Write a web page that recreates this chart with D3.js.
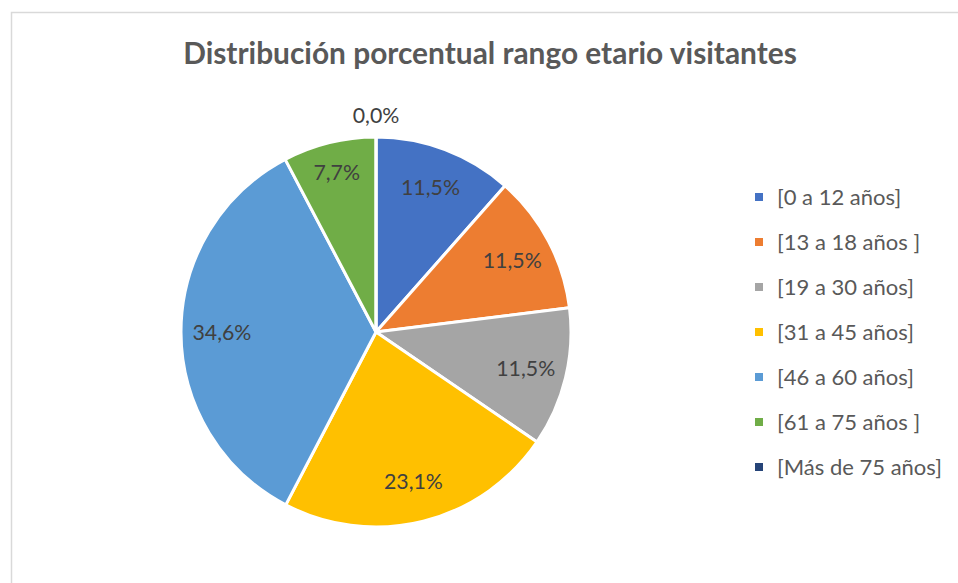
<!DOCTYPE html>
<html>
<head>
<meta charset="utf-8">
<script src="https://cdn.jsdelivr.net/npm/d3@7"></script>
<style>
  body { margin: 0; background: #fff; }
  svg { display: block; font-family: Lato, "Open Sans", sans-serif; }
</style>
</head>
<body>
<svg id="chart" width="958" height="583"></svg>
<script>
const title = "Distribución porcentual rango etario visitantes";
const categories = ["[0 a 12 años]", "[13 a 18 años ]", "[19 a 30 años]", "[31 a 45 años]",
                    "[46 a 60 años]", "[61 a 75 años ]", "[Más de 75 años]"];
const percents = [11.5, 11.5, 11.5, 23.1, 34.6, 7.7, 0.0];
const colors = ["#4472C4", "#ED7D31", "#A5A5A5", "#FFC000", "#5B9BD5", "#70AD47", "#264478"];

const width = 958, height = 583;
const cx = 376, cy = 332, radius = 195;

const svg = d3.select("#chart");

// fit a font size so a sample string reaches a given width
function fitSize(sample, target, base, weight) {
    const tmp = svg.append("text").attr("font-size", base).attr("font-weight", weight || "normal").text(sample);
    const w = tmp.node().getComputedTextLength();
    tmp.remove();
    return base * target / w;
}

// chart area border (runs past the window on the right and bottom)
svg.append("rect")
    .attr("x", 11.5).attr("y", 12.5)
    .attr("width", 1000).attr("height", 700)
    .attr("fill", "#fff")
    .attr("stroke", "#d9d9d9")
    .attr("stroke-width", 1.5);

svg.append("text")
    .attr("x", 490).attr("y", 64)
    .attr("text-anchor", "middle")
    .attr("fill", "#595959")
    .attr("font-weight", "bold")
    .attr("font-size", fitSize(title, 614, 24, "bold"))
    .text(title);

const data = categories.map((c, i) => ({ name: c, value: percents[i], color: colors[i] }));

const pie = d3.pie().sort(null).value(d => d.value);
const arcs = pie(data);

const arc = d3.arc().innerRadius(0).outerRadius(radius);

const g = svg.append("g").attr("transform", `translate(${cx},${cy})`);

g.selectAll("path")
    .data(arcs)
    .join("path")
    .attr("d", arc)
    .attr("fill", d => d.data.color)
    .attr("stroke", "#fff")
    .attr("stroke-width", 3)
    .attr("stroke-linejoin", "round");

// data labels: inside for real slices, outside for the empty one
const labelArc = d3.arc().innerRadius(radius * 0.79).outerRadius(radius * 0.79);
const narrowArc = d3.arc().innerRadius(radius * 0.84).outerRadius(radius * 0.84);
const outerArc = d3.arc().innerRadius(radius * 1.11).outerRadius(radius * 1.11);
const fmt = v => v.toFixed(1).replace(".", ",") + "%";
const labelSize = fitSize("34,6%", 59, 18);

g.selectAll("text.lbl")
    .data(arcs)
    .join("text")
    .attr("class", "lbl")
    .attr("transform", d => {
        let p;
        if (d.data.value === 0) p = outerArc.centroid(d);
        else if (d.endAngle - d.startAngle < 0.6) p = narrowArc.centroid(d);
        else p = labelArc.centroid(d);
        return `translate(${p[0]},${p[1]})`;
    })
    .attr("text-anchor", "middle")
    .attr("dy", "0.35em")
    .attr("fill", "#404040")
    .attr("font-size", labelSize)
    .text(d => fmt(d.data.value));

// legend
const legendY = d3.scalePoint()
    .domain(categories)
    .range([197, 467]);
const legendSize = fitSize("[Más de 75 años]", 165, 18);

const item = svg.append("g").selectAll("g")
    .data(data)
    .join("g")
    .attr("transform", d => `translate(755,${legendY(d.name)})`);

item.append("rect")
    .attr("x", 0).attr("y", -4)
    .attr("width", 8).attr("height", 8)
    .attr("fill", d => d.color);

item.append("text")
    .attr("x", 22)
    .attr("dy", "0.35em")
    .attr("fill", "#595959")
    .attr("font-size", legendSize)
    .text(d => d.name);
</script>
</body>
</html>
